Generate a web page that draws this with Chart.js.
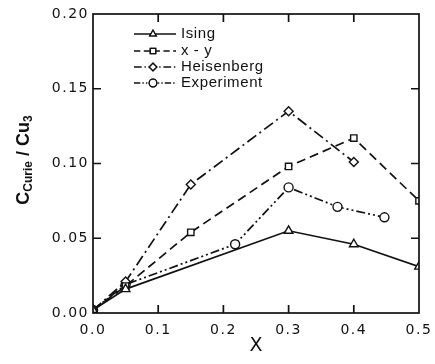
<!DOCTYPE html>
<html>
<head>
<meta charset="utf-8">
<script src="https://cdn.jsdelivr.net/npm/chart.js@4.4.1/dist/chart.umd.min.js"></script>
<style>
  html, body { margin: 0; padding: 0; background: #fff; }
  #wrap { width: 435px; height: 364px; }
</style>
</head>
<body>
<div id="wrap"><canvas id="c"></canvas></div>
<script>
// Curie constant per Cu3 unit versus composition x
const isingX = [0.0, 0.05, 0.30, 0.40, 0.50];
const isingY = [0.002, 0.016, 0.055, 0.046, 0.031];

const xyX = [0.0, 0.05, 0.15, 0.30, 0.40, 0.50];
const xyY = [0.002, 0.018, 0.054, 0.098, 0.117, 0.075];

const heisX = [0.0, 0.05, 0.15, 0.30, 0.40];
const heisY = [0.002, 0.021, 0.086, 0.135, 0.101];

const expX = [0.0, 0.05, 0.218, 0.30, 0.375, 0.447];
const expY = [0.002, 0.019, 0.046, 0.084, 0.071, 0.064];

const seriesNames = ['Ising', 'x - y', 'Heisenberg', 'Experiment'];
const xTicks = [0.0, 0.1, 0.2, 0.3, 0.4, 0.5];
const yTicks = [0.00, 0.05, 0.10, 0.15, 0.20];

const FONT = '"DejaVu Sans", "Liberation Sans", sans-serif';
const TFONT = '"Liberation Sans", "DejaVu Sans", sans-serif';
const INK = '#111';

function pts(xs, ys) { return xs.map((x, i) => ({ x, y: ys[i] })); }

const styles = [
  { dash: [], point: 'triangle', r: 5 },
  { dash: [9, 5], point: 'rect', r: 4.5 },
  { dash: [11, 4, 2, 4], point: 'rectRot', r: 4.5 },
  { dash: [9, 3, 2, 3, 2, 3], point: 'circle', r: 4.5 }
];

const seriesData = [pts(isingX, isingY), pts(xyX, xyY), pts(heisX, heisY), pts(expX, expY)];

const datasets = seriesData.map((d, i) => ({
  label: seriesNames[i],
  data: d,
  borderColor: INK,
  borderWidth: 1.7,
  borderDash: styles[i].dash,
  pointStyle: styles[i].point,
  pointRadius: styles[i].r,
  pointBackgroundColor: '#fff',
  pointBorderColor: INK,
  pointBorderWidth: 1.4,
  tension: 0,
  fill: false
}));

// Wider glyph spacing for the tick numbers
const spacing = {
  id: 'spacing',
  beforeDraw(chart) { chart.ctx.letterSpacing = '1.5px'; },
  afterDraw(chart) { chart.ctx.letterSpacing = '0px'; }
};

// Frame, inward ticks, axis titles and the in-plot key
const decor = {
  id: 'decor',
  afterDatasetsDraw(chart) {
    const ctx = chart.ctx;
    const a = chart.chartArea;
    const xs = chart.scales.x, ys = chart.scales.y;
    ctx.save();
    ctx.letterSpacing = '0px';
    ctx.strokeStyle = INK;
    ctx.lineWidth = 1.7;
    ctx.setLineDash([]);
    ctx.strokeRect(a.left, a.top, a.right - a.left, a.bottom - a.top);

    const tl = 8;
    ctx.beginPath();
    xTicks.slice(1, -1).forEach(v => {
      const px = xs.getPixelForValue(v);
      ctx.moveTo(px, a.bottom); ctx.lineTo(px, a.bottom - tl);
      ctx.moveTo(px, a.top); ctx.lineTo(px, a.top + tl);
    });
    yTicks.slice(1, -1).forEach(v => {
      const py = ys.getPixelForValue(v);
      ctx.moveTo(a.left, py); ctx.lineTo(a.left + tl, py);
      ctx.moveTo(a.right, py); ctx.lineTo(a.right - tl, py);
    });
    ctx.stroke();

    // x title
    ctx.fillStyle = INK;
    ctx.font = '19px ' + FONT;
    ctx.textAlign = 'center';
    ctx.textBaseline = 'middle';
    ctx.fillText('X', (a.left + a.right) / 2, 346);

    // y title with subscripts, rotated
    ctx.save();
    ctx.translate(24, 160);
    ctx.rotate(-Math.PI / 2);
    const parts = [
      { t: 'C', f: 'bold 18px ' + TFONT, dy: 0 },
      { t: 'Curie', f: 'bold 12px ' + TFONT, dy: 5 },
      { t: ' / Cu', f: 'bold 18px ' + TFONT, dy: 0 },
      { t: '3', f: 'bold 12px ' + TFONT, dy: 5 }
    ];
    let total = 0;
    parts.forEach(p => { ctx.font = p.f; p.w = ctx.measureText(p.t).width; total += p.w; });
    let cx = -total / 2;
    ctx.textAlign = 'left';
    ctx.textBaseline = 'middle';
    parts.forEach(p => { ctx.font = p.f; ctx.fillText(p.t, cx, p.dy); cx += p.w; });
    ctx.restore();

    // key
    const kx0 = 134, kx1 = 176, rowY = [34, 51, 67, 83];
    ctx.font = '15px ' + TFONT;
    ctx.letterSpacing = '0.6px';
    ctx.textAlign = 'left';
    ctx.textBaseline = 'middle';
    datasets.forEach((ds, i) => {
      const y = rowY[i];
      ctx.strokeStyle = INK;
      ctx.lineWidth = 1.5;
      ctx.setLineDash(ds.borderDash.map(v => v * 0.7));
      ctx.beginPath(); ctx.moveTo(kx0, y); ctx.lineTo(kx1, y); ctx.stroke();
      ctx.setLineDash([]);
      ctx.fillStyle = '#fff';
      ctx.lineWidth = 1.3;
      Chart.helpers.drawPoint(ctx, { pointStyle: ds.pointStyle, radius: 3.8, rotation: 0, borderWidth: 1.3 }, 153, y);
      ctx.fill(); ctx.stroke();
      ctx.fillStyle = INK;
      ctx.fillText(ds.label, 181, y);
    });
    ctx.restore();
  }
};

new Chart(document.getElementById('c'), {
  type: 'line',
  data: { datasets },
  options: {
    responsive: true,
    maintainAspectRatio: false,
    animation: false,
    layout: { padding: { top: 14, right: 16, left: 0, bottom: 0 } },
    plugins: { legend: { display: false }, tooltip: { enabled: false } },
    scales: {
      x: {
        type: 'linear',
        min: 0, max: 0.5,
        afterBuildTicks: s => { s.ticks = xTicks.map(v => ({ value: v })); },
        afterFit: s => { s.height = 51; s.paddingLeft = 0; s.paddingRight = 0; },
        grid: { display: false, drawTicks: false },
        border: { display: false },
        ticks: {
          color: INK, padding: 9,
          font: { family: FONT, size: 14 },
          callback: v => Number(v).toFixed(1)
        }
      },
      y: {
        type: 'linear',
        min: 0, max: 0.2,
        afterBuildTicks: s => { s.ticks = yTicks.map(v => ({ value: v })); },
        afterFit: s => { s.width = 93; s.paddingTop = 0; s.paddingBottom = 0; },
        grid: { display: false, drawTicks: false },
        border: { display: false },
        ticks: {
          color: INK, padding: 4,
          font: { family: FONT, size: 14 },
          callback: v => Number(v).toFixed(2)
        }
      }
    }
  },
  plugins: [spacing, decor]
});
</script>
</body>
</html>
